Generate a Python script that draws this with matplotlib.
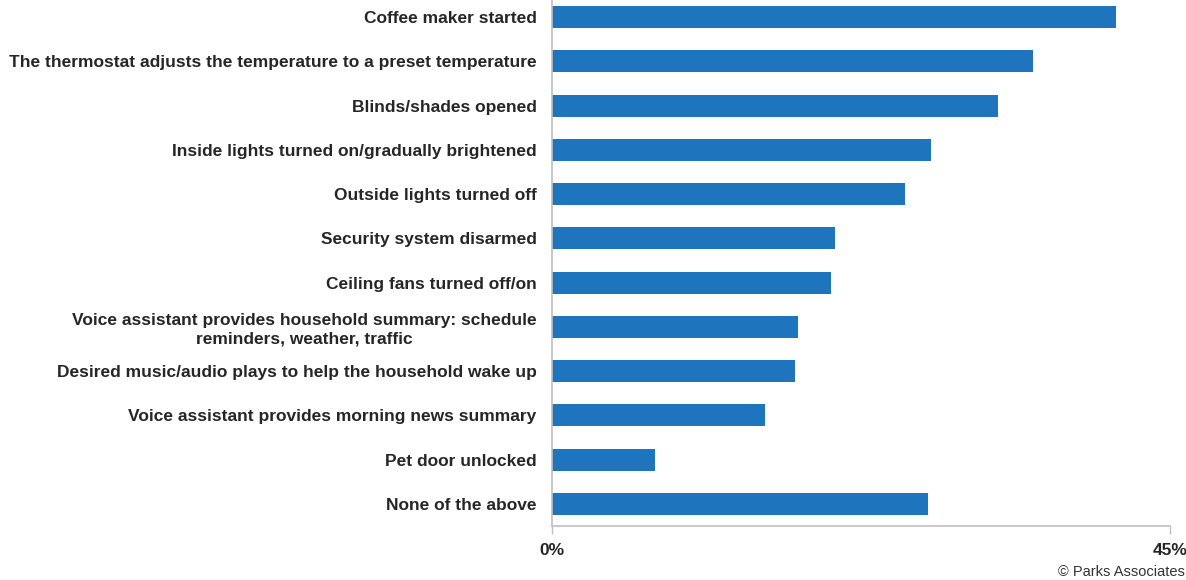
import matplotlib
matplotlib.use("Agg")
import matplotlib.pyplot as plt

categories = [
    "Coffee maker started",
    "The thermostat adjusts the temperature to a preset temperature",
    "Blinds/shades opened",
    "Inside lights turned on/gradually brightened",
    "Outside lights turned off",
    "Security system disarmed",
    "Ceiling fans turned off/on",
    "Voice assistant provides household summary: schedule\nreminders, weather, traffic",
    "Desired music/audio plays to help the household wake up",
    "Voice assistant provides morning news summary",
    "Pet door unlocked",
    "None of the above",
]
values = [41.1, 35.0, 32.5, 27.6, 25.7, 20.6, 20.3, 17.9, 17.7, 15.5, 7.5, 27.4]
tick_vals = [0, 45]
tick_labels = ["0%", "45%"]

plt.rcParams['font.family'] = ['Liberation Sans', 'DejaVu Sans']

fig = plt.figure(figsize=(11.86, 5.80), dpi=100)
ax = fig.add_axes([552/1186, (580-526)/580, (1170-552)/1186, (526+5)/580])

n = len(categories)
ypos = list(range(n))
ax.barh(ypos, values, height=0.5, color="#1F75BD")
ax.set_ylim(n - 0.5, -0.5)
ax.set_xlim(0, 45)
ax.set_yticks(ypos)
ax.set_yticklabels(categories, fontsize=12.5, fontweight="bold", color="#262626",
                   linespacing=1.3, multialignment="center")
ax.set_xticks(tick_vals)
ax.set_xticklabels(tick_labels, fontsize=12.5, fontweight="bold", color="#262626")
ax.tick_params(axis="y", length=0, pad=11)
ax.tick_params(axis="x", length=6, color="#BFBFBF", width=1, pad=6)
for s in ["top", "right"]:
    ax.spines[s].set_visible(False)
for s in ["left", "bottom"]:
    ax.spines[s].set_color("#BFBFBF")
    ax.spines[s].set_linewidth(1.2)

fig.text(1185/1186, (580-572)/580, "© Parks Associates", ha="right", va="center",
         fontsize=10.5, color="#333333")
fig.savefig("out.png", dpi=100)
